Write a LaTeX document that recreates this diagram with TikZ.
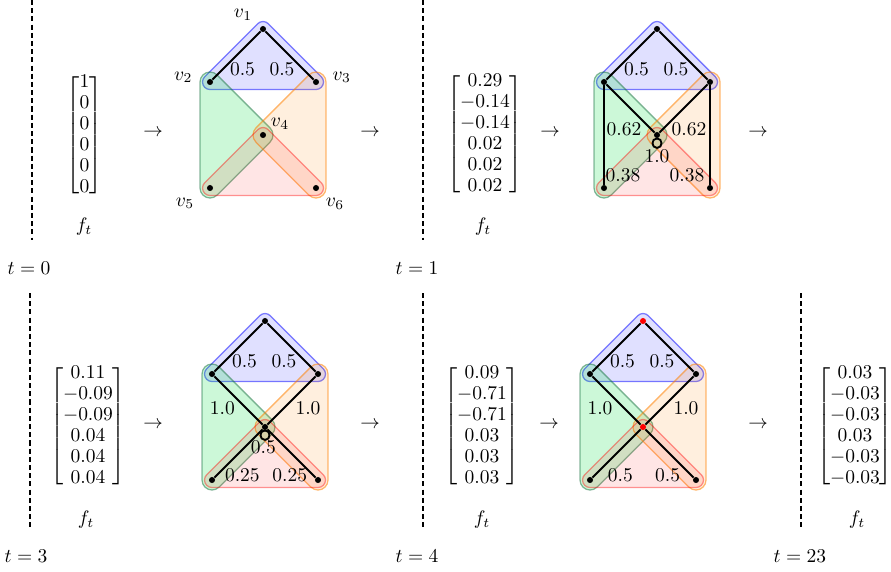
\documentclass[tikz,border=0pt]{standalone}
\usepackage{amsmath}
\usetikzlibrary{calc}
\definecolor{hgreen}{RGB}{20,110,60}
\definecolor{gfill}{RGB}{0,220,60}
\pgfdeclarelayer{hulllayer}
\pgfdeclarelayer{edgelayer}
\pgfsetlayers{hulllayer,edgelayer,main}
\tikzset{
  vtx/.style={circle, fill=black, inner sep=0pt, minimum size=3.1pt},
  redvtx/.style={vtx, fill=red},
  gedge/.style={line width=0.95pt, black},
  elbl/.style={inner sep=0pt},
  divline/.style={line width=1.1pt, dash pattern=on 2.6pt off 1.6pt},
  vecnode/.style={inner sep=0pt, execute at begin node={\renewcommand{\arraystretch}{0.9}}},
  bluehull/.style={fill=blue, fill opacity=0.12, draw=blue, draw opacity=0.5, line width=0.65pt},
  greenhull/.style={fill=gfill, fill opacity=0.2, draw=hgreen, draw opacity=0.5, line width=0.65pt},
  orangehull/.style={fill=orange, fill opacity=0.13, draw=orange, draw opacity=0.55, line width=0.65pt},
  redhull/.style={fill=red, fill opacity=0.1, draw=red, draw opacity=0.4, line width=0.65pt},
}
\newcommand{\hgHulls}[2]{%
  \begin{pgfonlayer}{hulllayer}
  \begin{scope}[shift={(#1,#2)}]
    \path[bluehull] (0,0) ++(225:7.5) arc[start angle=225,end angle=315,radius=7.5] -- ++(53,53) arc[start angle=-45,end angle=90,radius=7.5] -- ++(-106,0) arc[start angle=90,end angle=225,radius=7.5] -- cycle;
    \path[greenhull] (-53,53) ++(180:10) arc[start angle=180,end angle=315,radius=10] -- ++(53,53) arc[start angle=-45,end angle=45,radius=10] -- ++(-53,53) arc[start angle=45,end angle=180,radius=10] -- cycle;
    \path[orangehull] (53,53) ++(225:10) arc[start angle=225,end angle=360,radius=10] -- ++(0,106) arc[start angle=0,end angle=135,radius=10] -- ++(-53,-53) arc[start angle=135,end angle=225,radius=10] -- cycle;
    \path[redhull] (0,106) ++(225:7.5) arc[start angle=225,end angle=315,radius=7.5] -- ++(53,53) arc[start angle=-45,end angle=90,radius=7.5] -- ++(-106,0) arc[start angle=90,end angle=225,radius=7.5] -- cycle;
  \end{scope}
  \end{pgfonlayer}}
\begin{document}
\begin{tikzpicture}[x=0.5128pt,y=-0.5128pt]
\useasboundingbox (0,0) rectangle (891,571);

% separators
\coordinate (s1a) at (32,0);   \coordinate (s1b) at (32,240);
\coordinate (s2a) at (423,0);  \coordinate (s2b) at (423,240);
\coordinate (s3a) at (30,293); \coordinate (s3b) at (30,530);
\coordinate (s4a) at (423,293);\coordinate (s4b) at (423,530);
\coordinate (s5a) at (801,293);\coordinate (s5b) at (801,530);
\draw[divline] (s1a) -- (s1b);
\draw[divline] (s2a) -- (s2b);
\draw[divline] (s3a) -- (s3b);
\draw[divline] (s4a) -- (s4b);
\draw[divline] (s5a) -- (s5b);

% time labels
\node (t0) at (29,268) {$t=0$};
\node (t1) at (417,268) {$t=1$};
\node (t3) at (26,556) {$t=3$};
\node (t4) at (417,556) {$t=4$};
\node (t23) at (800,556) {$t=23$};

% vectors
\node[vecnode] (m0) at (84.5,135.5) {$\begin{bmatrix}1\\0\\0\\0\\0\\0\end{bmatrix}$};
\node (f0) at (84,227) {$f_t$};
\node[vecnode] (m1) at (485,134.5) {$\begin{bmatrix}0.29\\-0.14\\-0.14\\0.02\\0.02\\0.02\end{bmatrix}$};
\node (f1) at (483,227) {$f_t$};
\node[vecnode] (m3) at (88,426.5) {$\begin{bmatrix}0.11\\-0.09\\-0.09\\0.04\\0.04\\0.04\end{bmatrix}$};
\node (f3) at (86,520) {$f_t$};
\node[vecnode] (m4) at (482,426.5) {$\begin{bmatrix}0.09\\-0.71\\-0.71\\0.03\\0.03\\0.03\end{bmatrix}$};
\node (f4) at (482,520) {$f_t$};
\node[vecnode] (m23) at (855,426.5) {$\begin{bmatrix}0.03\\-0.03\\-0.03\\0.03\\-0.03\\-0.03\end{bmatrix}$};
\node (f23) at (857,520) {$f_t$};

% arrows
\node (r1) at (153,133) {$\to$};
\node (r2) at (370,133) {$\to$};
\node (r3) at (550,133) {$\to$};
\node (r4) at (758,133) {$\to$};
\node (r5) at (153,425) {$\to$};
\node (r6) at (370,425) {$\to$};
\node (r7) at (549,425) {$\to$};
\node (r8) at (758,425) {$\to$};

% ---------- hypergraph A (t=0) ----------
\hgHulls{263}{29}
\node[vtx] (a1) at (263,29) {};
\node[vtx] (a2) at (210,82) {};
\node[vtx] (a3) at (316,82) {};
\node[vtx] (a4) at (263,135) {};
\node[vtx] (a5) at (210,188) {};
\node[vtx] (a6) at (316,188) {};
\node (la1) at ($(a1)+(-20,-14)$) {$v_1$};
\node (la2) at ($(a2)+(-26.7,-4.7)$) {$v_2$};
\node (la3) at ($(a3)+(25.7,-4.7)$) {$v_3$};
\node (la4) at ($(a4)+(17,-11)$) {$v_4$};
\node (la5) at ($(a5)+(-25,15.3)$) {$v_5$};
\node (la6) at ($(a6)+(19,16)$) {$v_6$};
\begin{pgfonlayer}{edgelayer}
\draw[gedge] (a1) -- (a2) node[elbl] at ($(a1)+(-20.5,40.5)$) {$0.5$};
\draw[gedge] (a1) -- (a3) node[elbl] at ($(a1)+(19,40.5)$) {$0.5$};
\end{pgfonlayer}

% ---------- hypergraph B (t=1) ----------
\hgHulls{657}{29}
\node[vtx] (b1) at (657,29) {};
\node[vtx] (b2) at (604,82) {};
\node[vtx] (b3) at (710,82) {};
\node[vtx] (b4) at (657,135) {};
\node[vtx] (b5) at (604,188) {};
\node[vtx] (b6) at (710,188) {};
\begin{pgfonlayer}{edgelayer}
\draw[gedge] (b1) -- (b2) node[elbl] at ($(b1)+(-20.5,40.5)$) {$0.5$};
\draw[gedge] (b1) -- (b3) node[elbl] at ($(b1)+(19,40.5)$) {$0.5$};
\draw[gedge] (b2) -- (b4) node[elbl] at ($(b2)+(20,47)$) {$0.62$};
\draw[gedge] (b3) -- (b4) node[elbl] at ($(b3)+(-21,47)$) {$0.62$};
\draw[gedge] (b2) -- (b5) node[elbl] at ($(b5)+(19,-13)$) {$0.38$};
\draw[gedge] (b3) -- (b6) node[elbl] at ($(b6)+(-23,-13)$) {$0.38$};
\draw[gedge] (b4.south) .. controls +(6,0) and +(6,0) .. ++(0,9.5) .. controls +(-6,0) and +(-6,0) .. (b4.south) node[elbl] at ($(b4)+(0,21)$) {$1.0$};
\end{pgfonlayer}

% ---------- hypergraph C (t=3) ----------
\hgHulls{265}{321}
\node[vtx] (c1) at (265,321) {};
\node[vtx] (c2) at (212,374) {};
\node[vtx] (c3) at (318,374) {};
\node[vtx] (c4) at (265,427) {};
\node[vtx] (c5) at (212,480) {};
\node[vtx] (c6) at (318,480) {};
\begin{pgfonlayer}{edgelayer}
\draw[gedge] (c1) -- (c2) node[elbl] at ($(c1)+(-20.5,40.5)$) {$0.5$};
\draw[gedge] (c1) -- (c3) node[elbl] at ($(c1)+(19,40.5)$) {$0.5$};
\draw[gedge] (c2) -- (c4) node[elbl] at ($(c2)+(10.4,34)$) {$1.0$};
\draw[gedge] (c3) -- (c4) node[elbl] at ($(c3)+(-10,34)$) {$1.0$};
\draw[gedge] (c4) -- (c5) node[elbl] at ($(c5)+(30.4,-5)$) {$0.25$};
\draw[gedge] (c4) -- (c6) node[elbl] at ($(c6)+(-28.3,-5)$) {$0.25$};
\draw[gedge] (c4.south) .. controls +(6,0) and +(6,0) .. ++(0,9.5) .. controls +(-6,0) and +(-6,0) .. (c4.south) node[elbl] at ($(c4)+(-1.7,20)$) {$0.5$};
\end{pgfonlayer}

% ---------- hypergraph D (t=4) ----------
\hgHulls{643}{321}
\node[redvtx] (d1) at (643,321) {};
\node[vtx] (d2) at (590,374) {};
\node[vtx] (d3) at (696,374) {};
\node[redvtx] (d4) at (643,427) {};
\node[vtx] (d5) at (590,480) {};
\node[vtx] (d6) at (696,480) {};
\begin{pgfonlayer}{edgelayer}
\draw[gedge] (d1) -- (d2) node[elbl] at ($(d1)+(-20.5,40.5)$) {$0.5$};
\draw[gedge] (d1) -- (d3) node[elbl] at ($(d1)+(19,40.5)$) {$0.5$};
\draw[gedge] (d2) -- (d4) node[elbl] at ($(d2)+(10,34)$) {$1.0$};
\draw[gedge] (d3) -- (d4) node[elbl] at ($(d3)+(-10,34)$) {$1.0$};
\draw[gedge] (d4) -- (d5) node[elbl] at ($(d5)+(30.3,-5)$) {$0.5$};
\draw[gedge] (d4) -- (d6) node[elbl] at ($(d6)+(-28.4,-5)$) {$0.5$};
\end{pgfonlayer}
\end{tikzpicture}
\end{document}
